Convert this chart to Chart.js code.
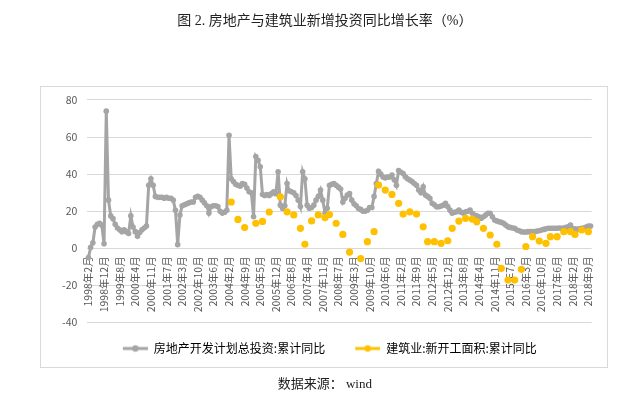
<!DOCTYPE html>
<html><head><meta charset="utf-8">
<script src="https://cdn.jsdelivr.net/npm/chart.js@4"></script>
<style>html,body{margin:0;padding:0;background:#fff}</style>
</head><body>
<canvas id="c" width="628" height="398"></canvas>
<script>
// ---- categories (monthly, Jan merged into Feb) ----
const months1998 = [2, 3, 4, 5, 6, 8, 10, 12];
const regularMonths = [2, 3, 4, 5, 6, 7, 8, 9, 10, 11, 12];
const firstFullYear = 1999, lastYear = 2018, lastMonth = 10;
const labelStep = 7;

// ---- series 1: 房地产开发计划总投资:累计同比 (monthly) ----
const reValues = [
  -5, 0.5, 3, 11.5, 13, 13.5, 12.5, 2.5, 74, 26,
  17.5, 16, 13, 11, 10, 9, 10, 9, 8, 17.5,
  11.5, 9, 6.5, 8.5, 10, 11, 12, 34, 37.5, 34,
  28, 27.5, 27.5, 27.5, 27, 27.5, 27, 27, 26, 20.5,
  2, 18, 23, 23.5, 24, 24.5, 25, 25, 27.5, 28,
  27.5, 26, 24.5, 23, 19, 22.5, 23, 23, 22.5, 20,
  19, 19.5, 20.5, 61, 37.5, 36, 34.5, 34, 33.5, 35,
  34.5, 32.5, 30.5, 30, 17, 49.5, 47.5, 44, 29, 28.5,
  29, 28.5, 29.5, 30.5, 29.5, 41.3, 23.3, 21.5, 23, 35,
  31, 30.5, 30, 28.5, 26, 22.5, 41.3, 37.5, 23.3, 21.6,
  22, 23.3, 26, 28, 31.4, 26, 19, 21.6, 34, 34.5,
  35, 34, 33, 32, 25, 27, 28.7, 29.6, 26, 24,
  23, 21.5, 21, 20, 20, 20.5, 22, 22, 28, 35,
  41.5, 40, 38.5, 38, 38.5, 38.5, 39.5, 37, 34, 42,
  41, 40.4, 38.6, 37.5, 36.8, 36, 35, 34, 31.4, 30,
  33.2, 28.7, 28, 27, 24.3, 23.5, 22.4, 22.4, 22.8, 23.3,
  24.3, 22.5, 20.6, 18.9, 19.5, 19.7, 20.6, 19.5, 18.9, 19.7,
  20, 20.6, 18.9, 18, 17.5, 17, 16.2, 17, 18, 18.9,
  18.9, 17, 15.3, 14.8, 14.3, 14, 13.5, 12.5, 11.6, 11.3,
  11, 10.8, 9.9, 9.5, 9, 8.8, 8.8, 9, 9, 9,
  9, 9.3, 9.5, 9.9, 10.2, 10.5, 10.8, 10.8, 10.8, 10.8,
  10.8, 11, 10.8, 11, 11.3, 11.6, 12.6, 10.5, 10.5, 10.3,
  10.5, 10.8, 11, 11.5, 12, 12
];

// ---- series 2: 建筑业:新开工面积:累计同比 (quarterly) ----
const constrDates = [
  '2004年3月','2004年6月','2004年9月','2005年3月','2005年6月','2005年9月',
  '2006年3月','2006年6月','2006年9月','2006年12月','2007年3月','2007年6月',
  '2007年9月','2007年12月','2008年3月','2008年6月','2008年9月','2008年12月',
  '2009年6月','2009年9月','2009年12月','2010年3月','2010年6月','2010年9月',
  '2010年12月','2011年3月','2011年6月','2011年9月','2011年12月','2012年3月',
  '2012年6月','2012年9月','2012年12月','2013年3月','2013年6月','2013年9月',
  '2013年12月','2014年3月','2014年6月','2014年9月','2014年12月','2015年3月',
  '2015年6月','2015年9月','2015年12月','2016年3月','2016年6月','2016年9月',
  '2016年12月','2017年3月','2017年6月','2017年9月','2017年12月','2018年3月',
  '2018年6月','2018年9月'
];
const constrValues = [
  25, 15.6, 11.2, 13.5, 14.5, 19.6,
  27.8, 19.7, 18, 10.8, 2.2, 14.8,
  18, 16.6, 18.2, 13.5, 7.5, -2,
  -5.5, 3.6, 9, 34.1, 31.4, 29.1,
  24.3, 18.5, 19.7, 18.5, 11.6, 3.6,
  3.6, 2.7, 4.1, 10.8, 14.7, 16.2,
  15.8, 14.3, 10.8, 7.2, 2.2, -10.8,
  -17.1, -17.1, -11.3, 1, 6.3, 3.9,
  2.7, 6.3, 6.3, 9, 9, 7.5,
  9.9, 9
];

const seriesNames = ['房地产开发计划总投资:累计同比', '建筑业:新开工面积:累计同比'];
const seriesColors = ['#A5A5A5', '#FFC000'];
const titleText = '图 2. 房地产与建筑业新增投资同比增长率（%）';
const sourceText = '数据来源： wind';

// build category labels
const labels = [];
months1998.forEach(m => labels.push('1998年' + m + '月'));
for (let y = firstFullYear; y <= lastYear; y++) {
  regularMonths.forEach(m => { if (y < lastYear || m <= lastMonth) labels.push(y + '年' + m + '月'); });
}
const constrSeries = labels.map(() => null);
constrDates.forEach((d, k) => { const idx = labels.indexOf(d); if (idx >= 0) constrSeries[idx] = constrValues[k]; });

function legendIcon(color) {
  const cv = document.createElement('canvas');
  cv.width = 35; cv.height = 10;
  const g = cv.getContext('2d');
  g.strokeStyle = color; g.lineWidth = 3;
  g.beginPath(); g.moveTo(10, 5); g.lineTo(35, 5); g.stroke();
  g.fillStyle = color;
  g.beginPath(); g.arc(22.5, 5, 3.2, 0, Math.PI * 2); g.fill();
  return cv;
}

const borderBox = {
  id: 'borderBox',
  beforeDraw(chart) {
    const {ctx, chartArea, legend} = chart;
    ctx.save();
    ctx.strokeStyle = '#d9d9d9';
    ctx.lineWidth = 1;
    const l = 40.5, t = Math.round(chartArea.top - 14) + 0.5;
    const r = Math.round(chartArea.right + 15) + 0.5, b = Math.round(legend.bottom + 2) + 0.5;
    ctx.strokeRect(l, t, r - l, b - t);
    ctx.restore();
  }
};

Chart.defaults.font.family = '"Noto Sans CJK SC", "Noto Sans", sans-serif';
Chart.defaults.color = '#595959';

new Chart(document.getElementById('c'), {
  type: 'line',
  data: {
    labels: labels,
    datasets: [
      {
        label: seriesNames[0], data: reValues, order: 2,
        borderColor: seriesColors[0], backgroundColor: seriesColors[0],
        borderWidth: 3, pointRadius: 2.8, pointBorderWidth: 0,
        pointBackgroundColor: seriesColors[0], tension: 0
      },
      {
        label: seriesNames[1], data: constrSeries, order: 1,
        borderColor: seriesColors[1], backgroundColor: seriesColors[1],
        borderWidth: 3, pointRadius: 3.6, pointBorderWidth: 0,
        pointBackgroundColor: seriesColors[1], spanGaps: false, tension: 0
      }
    ]
  },
  options: {
    responsive: false,
    animation: false,
    layout: { padding: { left: 58, right: 36.3, top: 0, bottom: 0 } },
    scales: {
      x: {
        type: 'category',
        position: { y: 0 },
        offset: true,
        grid: { display: false, drawTicks: false },
        border: { display: false },
        ticks: {
          autoSkip: false, minRotation: 90, maxRotation: 90, padding: 8,
          color: '#595959', font: { size: 10.5 },
          callback: function (value, index) { return index % labelStep === 0 ? this.getLabelForValue(value) : ''; }
        }
      },
      y: {
        min: -40, max: 80,
        grid: { color: '#d9d9d9', drawTicks: false, lineWidth: 1 },
        border: { display: false },
        ticks: { stepSize: 20, padding: 10, color: '#595959', font: { size: 10.5 } },
        afterFit: (s) => { s.width = 29.3; }
      }
    },
    plugins: {
      title: {
        display: true, text: titleText, color: '#222',
        font: { size: 14, family: '"Liberation Serif", "Noto Sans CJK SC", serif', weight: 'normal' },
        padding: { top: 12.6, bottom: 70.6 }
      },
      subtitle: {
        display: true, position: 'bottom', text: sourceText, color: '#222',
        font: { size: 13, family: '"Liberation Serif", "Noto Sans CJK SC", serif' },
        padding: { top: 12.7, bottom: 5.2 }
      },
      legend: {
        position: 'bottom',
        labels: {
          usePointStyle: true, pointStyleWidth: 35, padding: 20,
          color: '#595959', font: { size: 12 },
          generateLabels: () => seriesNames.map((n, k) => ({
            text: n, pointStyle: legendIcon(seriesColors[k]), datasetIndex: k,
            fillStyle: seriesColors[k], strokeStyle: seriesColors[k], lineWidth: 0, hidden: false
          }))
        }
      },
      tooltip: { enabled: false }
    }
  },
  plugins: [borderBox]
});
</script>
</body></html>
